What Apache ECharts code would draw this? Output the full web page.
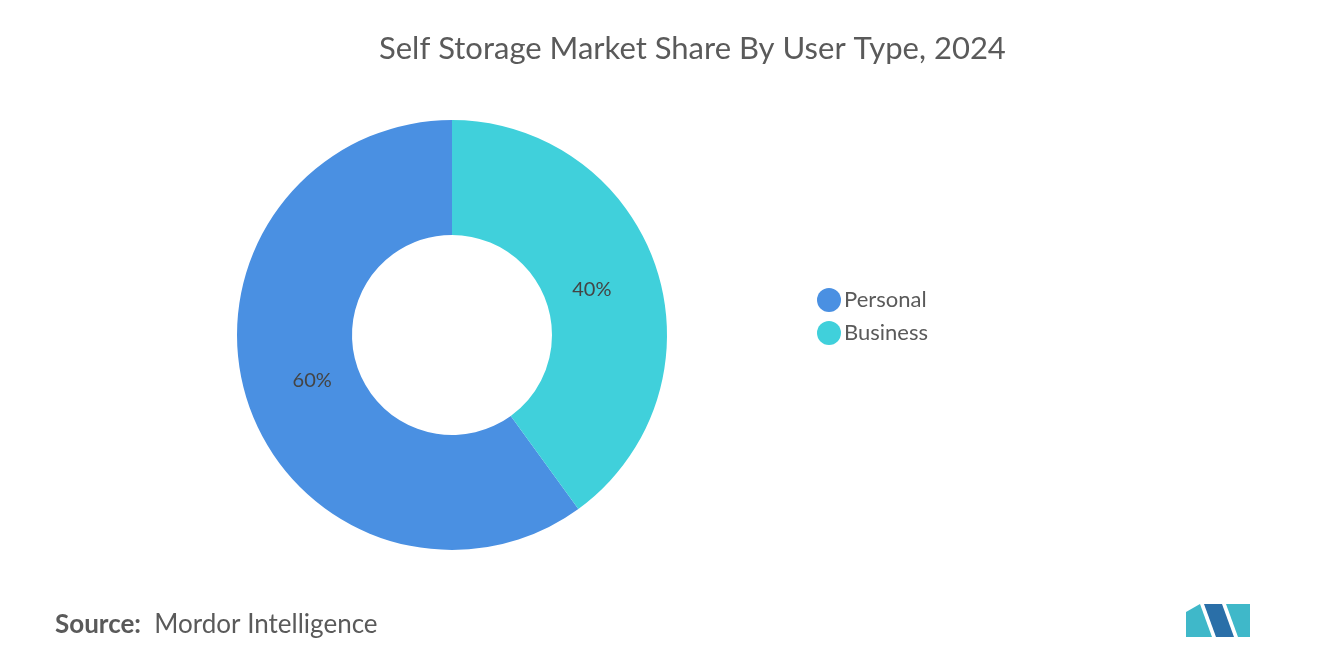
<!DOCTYPE html>
<html>
<head>
<meta charset="utf-8">
<script src="https://cdn.jsdelivr.net/npm/echarts@6/dist/echarts.min.js"></script>
<style>
  html, body { margin: 0; padding: 0; background: #fff; }
  #chart { width: 1320px; height: 665px; }
</style>
</head>
<body>
<div id="chart"></div>
<script>
const categories = ['Personal', 'Business'];
const shares = [60, 40];
const colors = ['#4a90e2', '#40d0db'];

const chart = echarts.init(document.getElementById('chart'));

const pieData = categories.map((name, i) => ({ name, value: shares[i] }));

const option = {
  backgroundColor: '#fff',
  textStyle: { fontFamily: 'Lato, "Noto Sans", sans-serif' },
  title: {
    text: 'Self Storage Market Share By User Type, 2024',
    left: 374,
    top: 28,
    textStyle: { fontSize: 31, fontWeight: 'normal', color: '#5a5a5a', fontFamily: 'Lato, sans-serif' }
  },
  legend: {
    orient: 'vertical',
    left: 812,
    top: 283,
    icon: 'circle',
    itemWidth: 24,
    itemHeight: 24,
    itemGap: 9,
    textStyle: { fontSize: 22, color: '#5a5a5a', padding: [0, 0, 0, -2] },
    data: categories
  },
  color: colors,
  series: [{
    type: 'pie',
    center: [452, 335],
    radius: [100, 215],
    clockwise: false,
    startAngle: 90,
    label: { show: false },
    labelLine: { show: false },
    data: pieData
  }, {
    // label-only ring so the percentages sit where the reference puts them
    type: 'pie',
    center: [452, 335],
    radius: [88, 200],
    clockwise: false,
    startAngle: 90,
    silent: true,
    itemStyle: { color: 'rgba(0,0,0,0)' },
    label: {
      position: 'inside',
      formatter: '{c}%',
      fontSize: 20,
      color: '#444'
    },
    labelLine: { show: false },
    data: pieData
  }],
  graphic: [
    {
      type: 'text', left: 55, top: 612,
      style: {
        rich: {
          a: { fontSize: 26, fontWeight: 'bold', fill: '#5a5a5a', fontFamily: 'Lato, sans-serif' },
          b: { fontSize: 26, fill: '#5a5a5a', fontFamily: 'Lato, sans-serif' }
        },
        text: '{a|Source:}{b|  Mordor Intelligence}'
      }
    },
    { type: 'polygon', shape: { points: [[1186, 637], [1186, 612], [1200, 604], [1212, 637]] }, style: { fill: '#3fb8c9' } },
    { type: 'polygon', shape: { points: [[1204, 604], [1222, 604], [1234, 637], [1216, 637]] }, style: { fill: '#2a6fa8' } },
    { type: 'polygon', shape: { points: [[1226, 604], [1250, 604], [1250, 637], [1238, 637]] }, style: { fill: '#3fb8c9' } }
  ]
};

chart.setOption(option);
</script>
</body>
</html>
